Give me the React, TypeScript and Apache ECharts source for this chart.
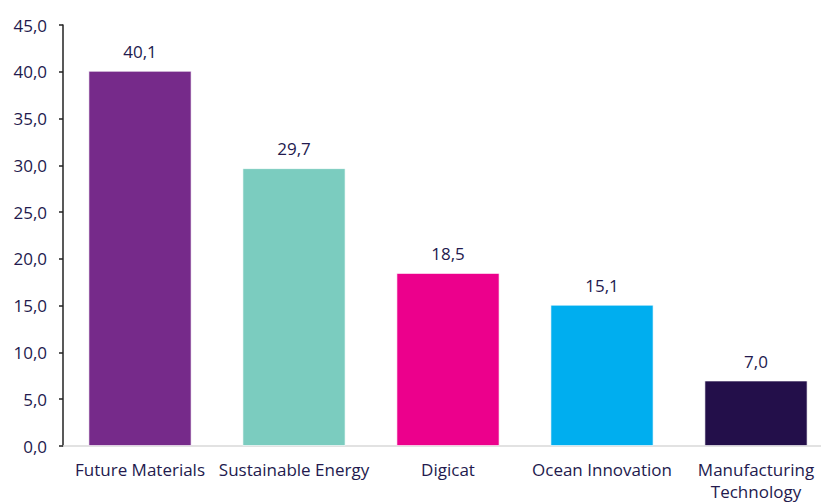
import React, { useEffect, useRef } from "react";
import * as echarts from "echarts";

const categories = ["Future Materials", "Sustainable Energy", "Digicat", "Ocean Innovation", "Manufacturing\nTechnology"];
const values = [40.1, 29.7, 18.5, 15.1, 7.0];
const colors = ["#762a8a", "#7bccbf", "#ec008c", "#00aeef", "#230f4a"];

const textColor = "#231a4e";
const font = "Open Sans";

export default function App() {
  const ref = useRef<HTMLDivElement>(null);
  useEffect(() => {
    const chart = echarts.init(ref.current!, null, { renderer: "svg" });
    chart.setOption({
      animation: false,
      grid: { left: 63, right: 0, top: 25, bottom: 50 },
      xAxis: {
        type: "category",
        data: categories,
        axisLine: { lineStyle: { color: "#d9d9d9", width: 1.5 } },
        axisTick: { show: false },
        axisLabel: {
          color: textColor,
          fontFamily: font,
          fontSize: 17,
          margin: 12,
          lineHeight: 22,
          interval: 0,
        },
      },
      yAxis: {
        type: "value",
        min: 0,
        max: 45,
        interval: 5,
        splitLine: { show: false },
        axisLine: { show: true, lineStyle: { color: "#222222", width: 1.5 } },
        axisTick: { show: true, length: 4, lineStyle: { color: "#222222", width: 1.5 } },
        axisLabel: {
          color: textColor,
          fontFamily: font,
          fontSize: 17,
          margin: 16,
          formatter: (v: number) => v.toFixed(1).replace(".", ","),
        },
      },
      series: [
        {
          type: "bar",
          data: values.map((v, i) => ({
            value: v,
            itemStyle: { color: colors[i], borderColor: "rgba(255,255,255,0.6)", borderWidth: 1 },
          })),
          barCategoryGap: "33%",
          label: {
            show: true,
            position: "top",
            distance: 11,
            color: textColor,
            fontFamily: font,
            fontSize: 17,
            formatter: (p: any) => p.value.toFixed(1).replace(".", ","),
          },
        },
      ],
    });
    return () => chart.dispose();
  }, []);
  return (
    <div style={{ width: 821, height: 502, position: "absolute", left: 0, top: 0, overflow: "hidden" }}>
      <div ref={ref} style={{ width: 833, height: 502 }} />
    </div>
  );
}
